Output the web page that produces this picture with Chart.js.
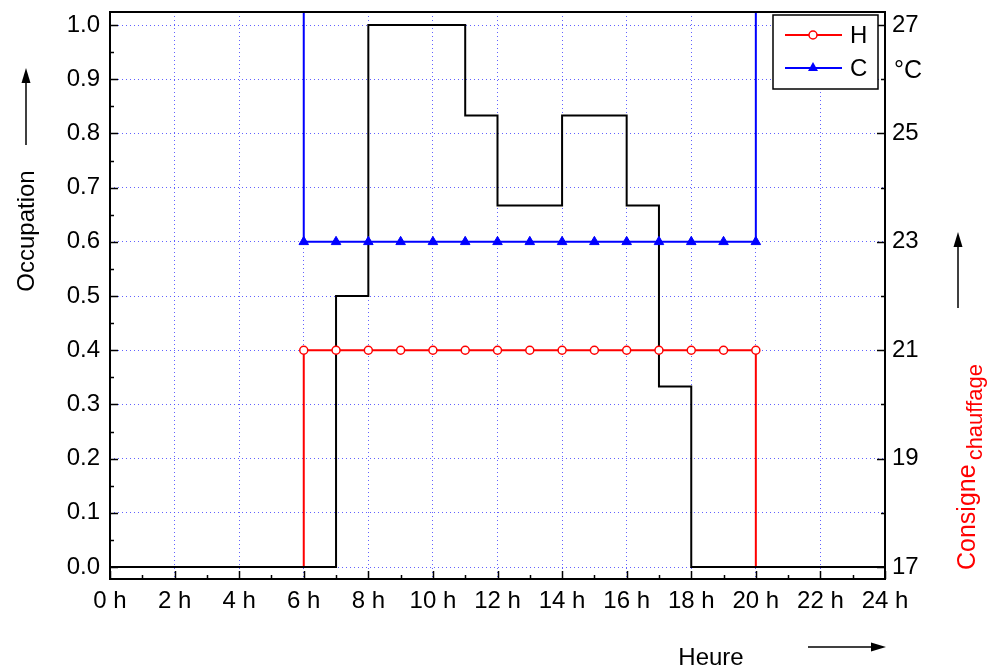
<!DOCTYPE html>
<html>
<head>
<meta charset="utf-8">
<script src="https://cdn.jsdelivr.net/npm/chart.js@4.4.1/dist/chart.umd.min.js"></script>
<style>
  html, body { margin: 0; padding: 0; background: #ffffff; }
  #wrap { width: 995px; height: 671px; }
</style>
</head>
<body>
<div id="wrap"><canvas id="scheduleChart"></canvas></div>
<script>
// hourly schedule, value at hour h holds for [h, h+1]
const hours = [0, 1, 2, 3, 4, 5, 6, 7, 8, 9, 10, 11, 12, 13, 14, 15, 16, 17, 18, 19, 20, 21, 22, 23, 24];
const occupation = [0, 0, 0, 0, 0, 0, 0, 0.5, 1, 1, 1, 0.833, 0.667, 0.667, 0.833, 0.833, 0.667, 0.333, 0, 0, 0, 0, 0, 0, 0];
const heating = [17, 17, 17, 17, 17, 17, 21, 21, 21, 21, 21, 21, 21, 21, 21, 21, 21, 21, 21, 21, 17, 17, 17, 17, 17];
// 28 = no cooling setpoint (above the axis top)
const cooling = [28, 28, 28, 28, 28, 28, 23, 23, 23, 23, 23, 23, 23, 23, 23, 23, 23, 23, 23, 23, 28, 28, 28, 28, 28];

// marker positions on the setpoint lines
const markHours = [6, 7, 8, 9, 10, 11, 12, 13, 14, 15, 16, 17, 18, 19, 20];
const heatMarks = [21, 21, 21, 21, 21, 21, 21, 21, 21, 21, 21, 21, 21, 21, 21];
const coolMarks = [23, 23, 23, 23, 23, 23, 23, 23, 23, 23, 23, 23, 23, 23, 23];

// axis ticks
const occTicks = [0, 0.1, 0.2, 0.3, 0.4, 0.5, 0.6, 0.7, 0.8, 0.9, 1.0];
const occMinor = [0.05, 0.15, 0.25, 0.35, 0.45, 0.55, 0.65, 0.75, 0.85, 0.95];
const hourTicks = [0, 2, 4, 6, 8, 10, 12, 14, 16, 18, 20, 22, 24];
const hourMinor = [1, 3, 5, 7, 9, 11, 13, 15, 17, 19, 21, 23];
const tempTicks = [17, 19, 21, 23, 25, 27];
const tempMinor = [18, 20, 22, 24, 26];

const RED = "#ff0000";
const BLUE = "#0000ff";
const FONT = "'Liberation Sans', Arial, sans-serif";
const GRID = "rgba(70, 70, 255, 0.85)";

function pairs(xs, ys) {
  return xs.map((x, i) => ({ x: x, y: ys[i] }));
}

function arrow(ctx, x1, y1, x2, y2) {
  const ang = Math.atan2(y2 - y1, x2 - x1);
  const len = 15;
  const half = 4.5;
  ctx.beginPath();
  ctx.moveTo(x1, y1);
  ctx.lineTo(x2 - len * Math.cos(ang), y2 - len * Math.sin(ang));
  ctx.stroke();
  ctx.beginPath();
  ctx.moveTo(x2, y2);
  ctx.lineTo(x2 - len * Math.cos(ang) - half * Math.sin(ang), y2 - len * Math.sin(ang) + half * Math.cos(ang));
  ctx.lineTo(x2 - len * Math.cos(ang) + half * Math.sin(ang), y2 - len * Math.sin(ang) - half * Math.cos(ang));
  ctx.closePath();
  ctx.fill();
}

// frame, inward ticks, legend box, axis titles and arrows
const decorPlugin = {
  id: "decor",
  afterDraw(chart) {
    const ctx = chart.ctx;
    const a = chart.chartArea;
    const sx = chart.scales.x;
    const sy = chart.scales.y;
    const sy2 = chart.scales.y2;
    ctx.save();
    ctx.strokeStyle = "#000";
    ctx.fillStyle = "#000";

    // ticks
    ctx.lineWidth = 1.5;
    ctx.beginPath();
    occTicks.forEach((v) => { const p = Math.round(sy.getPixelForValue(v)) + 0.5; ctx.moveTo(a.left, p); ctx.lineTo(a.left + 8, p); });
    occMinor.forEach((v) => { const p = Math.round(sy.getPixelForValue(v)) + 0.5; ctx.moveTo(a.left, p); ctx.lineTo(a.left + 4, p); });
    hourTicks.forEach((v) => { const p = Math.round(sx.getPixelForValue(v)) + 0.5; ctx.moveTo(p, a.bottom); ctx.lineTo(p, a.bottom - 8); });
    hourMinor.forEach((v) => { const p = Math.round(sx.getPixelForValue(v)) + 0.5; ctx.moveTo(p, a.bottom); ctx.lineTo(p, a.bottom - 4); });
    tempTicks.forEach((v) => { const p = Math.round(sy2.getPixelForValue(v)) + 0.5; ctx.moveTo(a.right, p); ctx.lineTo(a.right - 8, p); });
    tempMinor.forEach((v) => { const p = Math.round(sy2.getPixelForValue(v)) + 0.5; ctx.moveTo(a.right, p); ctx.lineTo(a.right - 4, p); });
    ctx.stroke();

    // frame
    ctx.lineWidth = 2;
    ctx.strokeRect(a.left, a.top, a.right - a.left, a.bottom - a.top);

    // legend
    const bx = a.right - 112;
    const by = a.top + 3;
    ctx.fillStyle = "#fff";
    ctx.fillRect(bx, by, 105, 74);
    ctx.lineWidth = 1.5;
    ctx.strokeStyle = "#000";
    ctx.strokeRect(bx, by, 105, 74);
    const entries = [
      { label: "H", color: RED, y: by + 20, mark: "circle" },
      { label: "C", color: BLUE, y: by + 53, mark: "triangle" }
    ];
    entries.forEach((e) => {
      ctx.strokeStyle = e.color;
      ctx.lineWidth = 2;
      ctx.beginPath();
      ctx.moveTo(bx + 12, e.y);
      ctx.lineTo(bx + 69, e.y);
      ctx.stroke();
      if (e.mark === "circle") {
        ctx.fillStyle = "#fff";
        ctx.lineWidth = 1.5;
        ctx.beginPath();
        ctx.arc(bx + 40, e.y, 4, 0, Math.PI * 2);
        ctx.fill();
        ctx.stroke();
      } else {
        ctx.fillStyle = e.color;
        ctx.beginPath();
        ctx.moveTo(bx + 40, e.y - 6);
        ctx.lineTo(bx + 45, e.y + 3);
        ctx.lineTo(bx + 35, e.y + 3);
        ctx.closePath();
        ctx.fill();
      }
      ctx.fillStyle = "#000";
      ctx.font = "24px " + FONT;
      ctx.textAlign = "left";
      ctx.textBaseline = "middle";
      ctx.fillText(e.label, bx + 77, e.y + 1);
    });

    // unit on the right axis
    ctx.fillStyle = "#000";
    ctx.font = "25px " + FONT;
    ctx.textAlign = "left";
    ctx.textBaseline = "middle";
    ctx.fillText("°C", a.right + 9, a.top + 59);

    // left title + arrow
    ctx.save();
    ctx.translate(34, 231);
    ctx.rotate(-Math.PI / 2);
    ctx.textAlign = "center";
    ctx.textBaseline = "alphabetic";
    ctx.font = "24px " + FONT;
    ctx.fillText("Occupation", 0, 0);
    ctx.restore();
    ctx.lineWidth = 1.5;
    ctx.strokeStyle = "#000";
    arrow(ctx, 26, 145, 26, 68);

    // right title + arrow
    ctx.save();
    ctx.translate(975, 570);
    ctx.rotate(-Math.PI / 2);
    ctx.fillStyle = RED;
    ctx.textAlign = "left";
    ctx.textBaseline = "alphabetic";
    ctx.font = "25px " + FONT;
    ctx.fillText("Consigne", 0, 0);
    const w = ctx.measureText("Consigne").width;
    ctx.font = "22px " + FONT;
    ctx.fillText("chauffage", w + 4, 7);
    ctx.restore();
    ctx.fillStyle = "#000";
    arrow(ctx, 958, 308, 958, 232);

    // bottom title + arrow
    ctx.font = "24px " + FONT;
    ctx.textAlign = "center";
    ctx.textBaseline = "alphabetic";
    ctx.fillText("Heure", 711, 665);
    arrow(ctx, 808, 647, 886, 647);

    ctx.restore();
  }
};

const tickFont = { family: FONT, size: 24 };

function noPad(s) {
  s.paddingTop = 0;
  s.paddingBottom = 0;
  s.paddingLeft = 0;
  s.paddingRight = 0;
}

const chart = new Chart(document.getElementById("scheduleChart"), {
  type: "line",
  data: {
    datasets: [
      {
        label: "H marks",
        data: pairs(markHours, heatMarks),
        yAxisID: "y2",
        showLine: false,
        pointStyle: "circle",
        pointRadius: 4,
        pointBackgroundColor: "#ffffff",
        pointBorderColor: RED,
        pointBorderWidth: 1.5
      },
      {
        label: "C marks",
        data: pairs(markHours, coolMarks),
        yAxisID: "y2",
        showLine: false,
        pointStyle: "triangle",
        pointRadius: 5.5,
        pointBackgroundColor: BLUE,
        pointBorderColor: BLUE,
        pointBorderWidth: 1
      },
      {
        label: "Occupation",
        data: pairs(hours, occupation),
        yAxisID: "y",
        stepped: true,
        borderColor: "#000000",
        borderWidth: 2,
        pointRadius: 0
      },
      {
        label: "H",
        data: pairs(hours, heating),
        yAxisID: "y2",
        stepped: true,
        borderColor: RED,
        borderWidth: 2,
        pointRadius: 0
      },
      {
        label: "C",
        data: pairs(hours, cooling),
        yAxisID: "y2",
        stepped: true,
        borderColor: BLUE,
        borderWidth: 2,
        pointRadius: 0
      }
    ]
  },
  options: {
    responsive: true,
    maintainAspectRatio: false,
    animation: false,
    layout: { padding: { top: 12, left: 0, right: 0, bottom: 0 } },
    plugins: {
      legend: { display: false },
      tooltip: { enabled: false }
    },
    scales: {
      x: {
        type: "linear",
        min: 0,
        max: 24,
        afterBuildTicks: (s) => { s.ticks = hourTicks.map((v) => ({ value: v })); },
        afterFit: (s) => { s.height = 92; noPad(s); },
        ticks: {
          color: "#000",
          font: tickFont,
          padding: 8,
          maxRotation: 0,
          callback: (v) => v + " h"
        },
        grid: { color: GRID, lineWidth: 1, drawTicks: false },
        border: { display: false, dash: [1, 3] }
      },
      y: {
        position: "left",
        min: -0.022,
        max: 1.024,
        afterBuildTicks: (s) => { s.ticks = occTicks.map((v) => ({ value: v })); },
        afterFit: (s) => { s.width = 110; noPad(s); },
        ticks: {
          color: "#000",
          font: tickFont,
          padding: 10,
          callback: (v) => v.toFixed(1)
        },
        grid: { color: GRID, lineWidth: 1, drawTicks: false },
        border: { display: false, dash: [1, 3] }
      },
      y2: {
        position: "right",
        min: 16.78,
        max: 27.24,
        afterBuildTicks: (s) => { s.ticks = tempTicks.map((v) => ({ value: v })); },
        afterFit: (s) => { s.width = 110; noPad(s); },
        ticks: {
          color: "#000",
          font: tickFont,
          padding: 7,
          callback: (v) => String(v)
        },
        grid: { display: false, drawTicks: false },
        border: { display: false }
      }
    }
  },
  plugins: [decorPlugin]
});
</script>
</body>
</html>
